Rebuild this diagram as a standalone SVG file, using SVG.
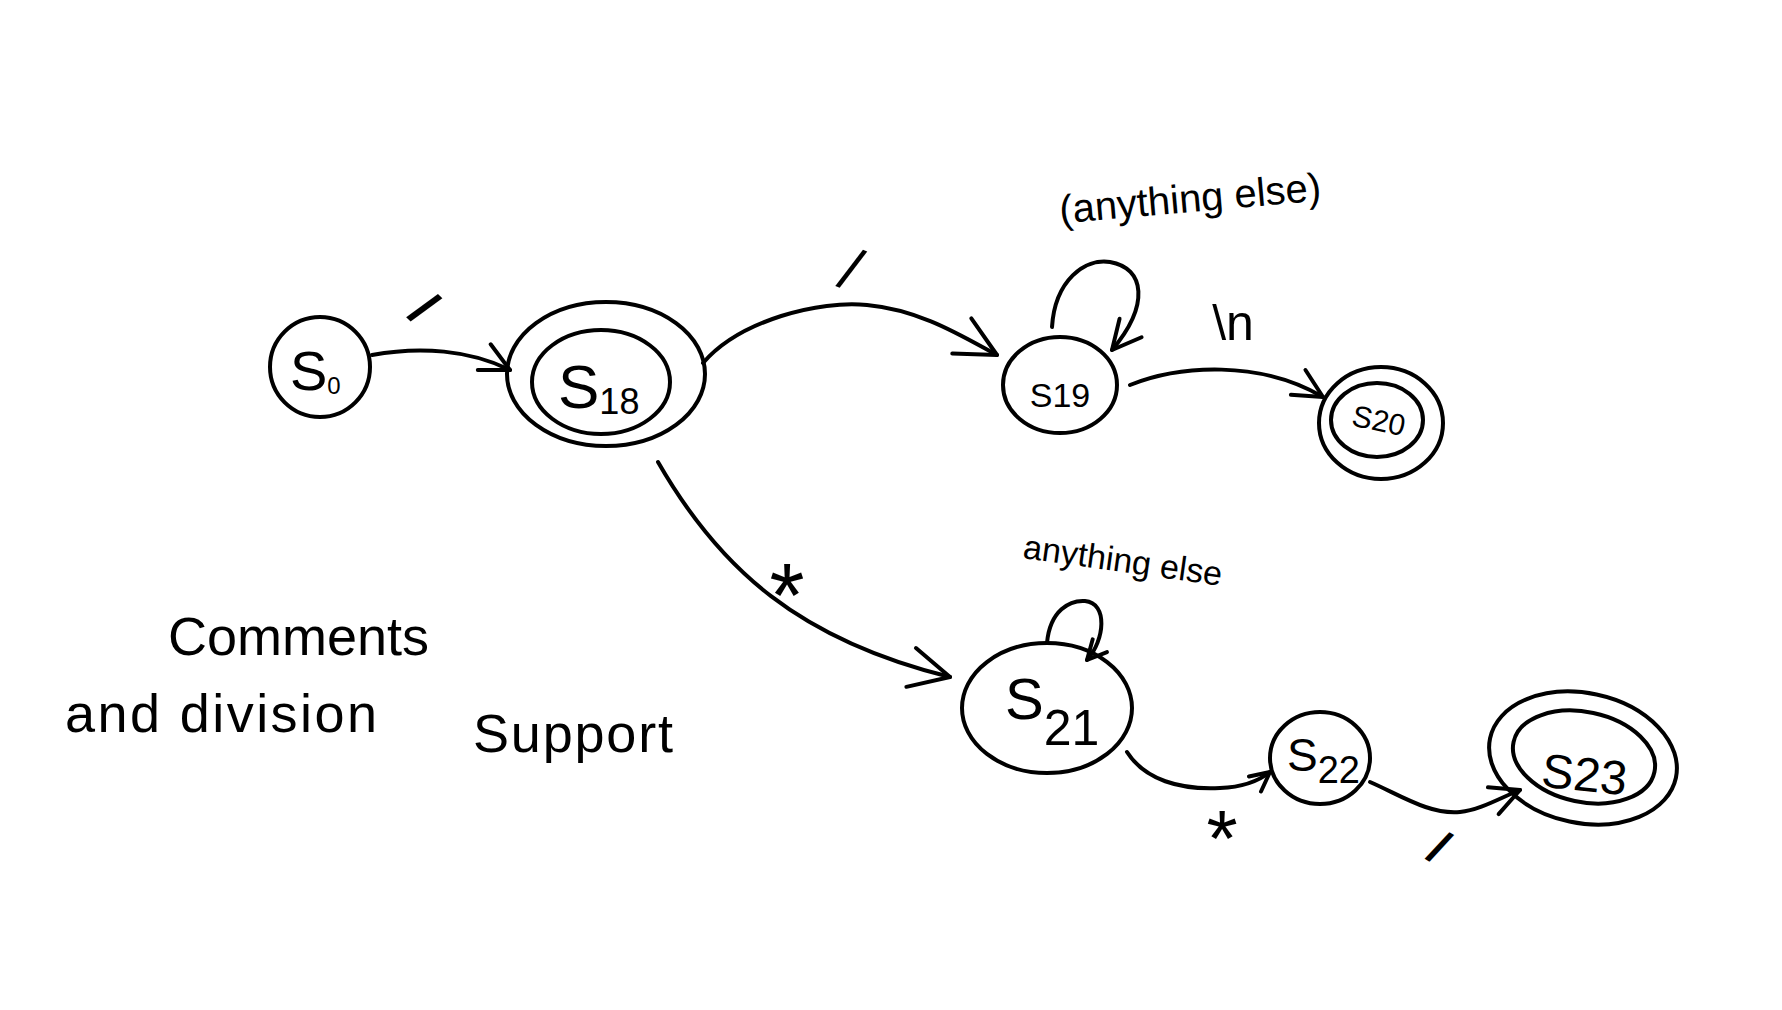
<svg xmlns="http://www.w3.org/2000/svg" width="1782" height="1010" viewBox="0 0 1782 1010">
<style>
.st{fill:none;stroke:#000;stroke-width:4;stroke-linecap:round;stroke-linejoin:round}
.lbl{font-family:"Liberation Sans","DejaVu Sans",Arial,sans-serif;fill:#000}
.cap{font-family:"Liberation Sans","DejaVu Sans",Arial,sans-serif;fill:#000;font-size:54px}
</style>
<defs>
<marker id="aL" viewBox="0 0 20 20" refX="18" refY="10" markerWidth="50" markerHeight="50" markerUnits="userSpaceOnUse" orient="auto"><path d="M2,2 L18,10 L2,18" fill="none" stroke="#000" stroke-width="1.6" stroke-linecap="round" stroke-linejoin="round"/></marker>
<marker id="aM" viewBox="0 0 20 20" refX="18" refY="10" markerWidth="36" markerHeight="36" markerUnits="userSpaceOnUse" orient="auto"><path d="M2,2 L18,10 L2,18" fill="none" stroke="#000" stroke-width="2.2" stroke-linecap="round" stroke-linejoin="round"/></marker>
<marker id="aS" viewBox="0 0 20 20" refX="18" refY="10" markerWidth="24" markerHeight="24" markerUnits="userSpaceOnUse" orient="auto"><path d="M2,2 L18,10 L2,18" fill="none" stroke="#000" stroke-width="3.3" stroke-linecap="round" stroke-linejoin="round"/></marker>
</defs>
<rect width="1782" height="1010" fill="#fff"/>

<g id="connectors">
<path class="st" d="M372,355 C420,346 470,350 510,370" marker-end="url(#aM)"/>
<path class="st" d="M703,363 C740,320 820,300 867,305 C920,310 960,335 997,355" marker-end="url(#aL)"/>
<path class="st" d="M1052,327 C1055,280 1085,258 1110,262 C1145,268 1150,305 1112,350" marker-end="url(#aM)"/>
<path class="st" d="M1130,385 C1180,365 1260,360 1323,397" marker-end="url(#aM)"/>
<path class="st" d="M658,462 C720,570 800,640 950,677" marker-end="url(#aL)"/>
<path class="st" d="M1047,643 C1050,610 1070,600 1085,601 C1108,603 1105,640 1087,660" marker-end="url(#aS)"/>
<path class="st" d="M1127,752 C1145,780 1180,790 1220,788 C1245,787 1260,780 1270,772" marker-end="url(#aS)"/>
<path class="st" d="M1370,782 C1400,795 1430,815 1460,812 C1480,810 1500,798 1520,790" marker-end="url(#aM)"/>
<text class="lbl" x="424" y="326" font-size="52" font-weight="bold" text-anchor="middle" transform="rotate(43 424 308)">/</text>
<text class="lbl" x="850" y="290" font-size="60" text-anchor="middle" transform="rotate(22 850 272)">/</text>
<text class="lbl" x="1190" y="212" font-size="40" text-anchor="middle" transform="rotate(-5 1190 198)">(anything else)</text>
<text class="lbl" x="1233" y="340" font-size="50" text-anchor="middle">\n</text>
<text class="lbl" x="787" y="627" font-size="90" text-anchor="middle">*</text>
<text class="lbl" x="1123" y="572" font-size="34" text-anchor="middle" transform="rotate(8 1123 560)">anything else</text>
<text class="lbl" x="1222" y="866" font-size="80" text-anchor="middle">*</text>
<text class="lbl" x="1440" y="864" font-size="48" font-weight="bold" text-anchor="middle" transform="rotate(32 1440 846)">/</text>
</g>

<g id="S0">
<ellipse class="st" cx="320" cy="367" rx="50" ry="50"/>
<text class="lbl" x="290" y="390"><tspan font-size="56">S</tspan><tspan font-size="24" dy="4">0</tspan></text>
</g>

<g id="S18">
<ellipse class="st" cx="606" cy="374" rx="99" ry="72"/>
<ellipse class="st" cx="601" cy="382" rx="69" ry="52"/>
<text class="lbl" x="558" y="408"><tspan font-size="62">S</tspan><tspan font-size="36" dy="6">18</tspan></text>
</g>

<g id="S19">
<ellipse class="st" cx="1060" cy="385" rx="57" ry="48"/>
<text class="lbl" x="1060" y="407" font-size="34" text-anchor="middle">S19</text>
</g>

<g id="S20">
<ellipse class="st" cx="1381" cy="423" rx="62" ry="56"/>
<ellipse class="st" cx="1377" cy="420" rx="46" ry="37"/>
<text class="lbl" x="1379" y="431" font-size="30" text-anchor="middle" transform="rotate(12 1379 420)">S20</text>
</g>

<g id="S21">
<ellipse class="st" cx="1047" cy="708" rx="85" ry="65"/>
<text class="lbl" x="1005" y="719"><tspan font-size="58">S</tspan><tspan font-size="50" dy="26">21</tspan></text>
</g>

<g id="S22">
<ellipse class="st" cx="1320" cy="758" rx="50" ry="46"/>
<text class="lbl" x="1287" y="771"><tspan font-size="46">S</tspan><tspan font-size="38" dy="12">22</tspan></text>
</g>

<g id="S23">
<ellipse class="st" cx="1583" cy="758" rx="95" ry="65" transform="rotate(12 1583 758)"/>
<ellipse class="st" cx="1584" cy="757" rx="72" ry="45" transform="rotate(12 1584 757)"/>
<text class="lbl" x="1585" y="791" font-size="48" text-anchor="middle" transform="rotate(6 1585 770)">S23</text>
</g>

<g id="caption">
<text class="cap" x="168" y="655" font-size="55">Comments</text>
<text class="cap" x="65" y="732" textLength="312" lengthAdjust="spacing">and division</text>
<text class="cap" x="473" y="752" textLength="200" lengthAdjust="spacing">Support</text>
</g>
</svg>
